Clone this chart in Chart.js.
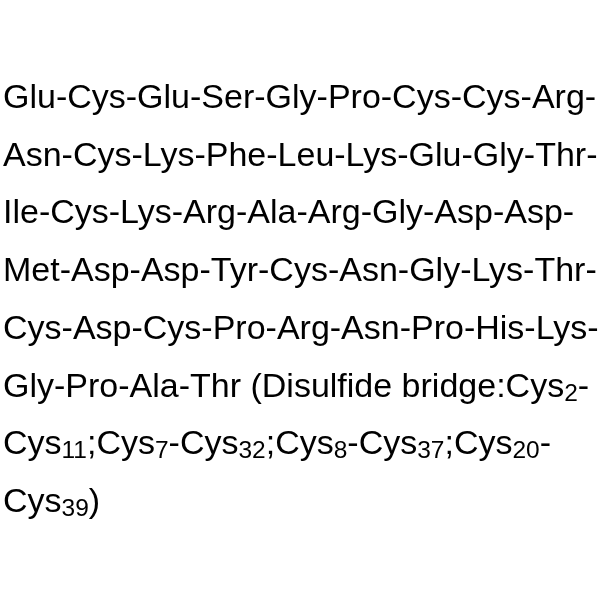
<!DOCTYPE html>
<html>
<head>
<meta charset="utf-8">
<script src="https://cdn.jsdelivr.net/npm/chart.js@4"></script>
<style>
  html, body { margin: 0; padding: 0; background: #fff; }
  #wrap { width: 600px; height: 600px; }
</style>
</head>
<body>
<div id="wrap"><canvas id="seqChart" width="600" height="600"></canvas></div>
<script>
// sequence lines, each segment is [text, isSubscript]
const line1 = [['Glu-Cys-Glu-Ser-Gly-Pro-Cys-Cys-Arg-', false]];
const line2 = [['Asn-Cys-Lys-Phe-Leu-Lys-Glu-Gly-Thr-', false]];
const line3 = [['Ile-Cys-Lys-Arg-Ala-Arg-Gly-Asp-Asp-', false]];
const line4 = [['Met-Asp-Asp-Tyr-Cys-Asn-Gly-Lys-Thr-', false]];
const line5 = [['Cys-Asp-Cys-Pro-Arg-Asn-Pro-His-Lys-', false]];
const line6 = [['Gly-Pro-Ala-Thr (Disulfide bridge:Cys', false], ['2', true], ['-', false]];
const line7 = [['Cys', false], ['11', true], [';Cys', false], ['7', true], ['-Cys', false], ['32', true],
               [';Cys', false], ['8', true], ['-Cys', false], ['37', true], [';Cys', false], ['20', true], ['-', false]];
const line8 = [['Cys', false], ['39', true], [')', false]];
const seqLines = [line1, line2, line3, line4, line5, line6, line7, line8];

// draws the text block on the chart canvas
const textPlugin = {
    id: 'seqText',
    afterDraw(chart) {
        const ctx = chart.ctx;
        ctx.save();
        ctx.fillStyle = '#000';
        ctx.textBaseline = 'alphabetic';
        ctx.textAlign = 'left';
        seqLines.forEach((line, i) => {
            let x = 3;
            const y = 108 + i * 57.7;
            line.forEach(seg => {
                if (seg[1]) {
                    ctx.font = '24.5px "Liberation Sans", Arial, sans-serif';
                    ctx.fillText(seg[0], x, y + 4);
                } else {
                    ctx.font = '34px "Liberation Sans", Arial, sans-serif';
                    ctx.fillText(seg[0], x, y);
                }
                x += ctx.measureText(seg[0]).width;
            });
        });
        ctx.restore();
    }
};

document.addEventListener('DOMContentLoaded', () => {
    const ctx = document.getElementById('seqChart').getContext('2d');
    new Chart(ctx, {
        type: 'scatter',
        data: { datasets: [{ data: [] }] },
        options: {
            responsive: false,
            animation: false,
            events: [],
            scales: {
                x: { display: false },
                y: { display: false }
            },
            plugins: {
                legend: { display: false },
                tooltip: { enabled: false }
            }
        },
        plugins: [textPlugin]
    });
});
</script>
</body>
</html>
